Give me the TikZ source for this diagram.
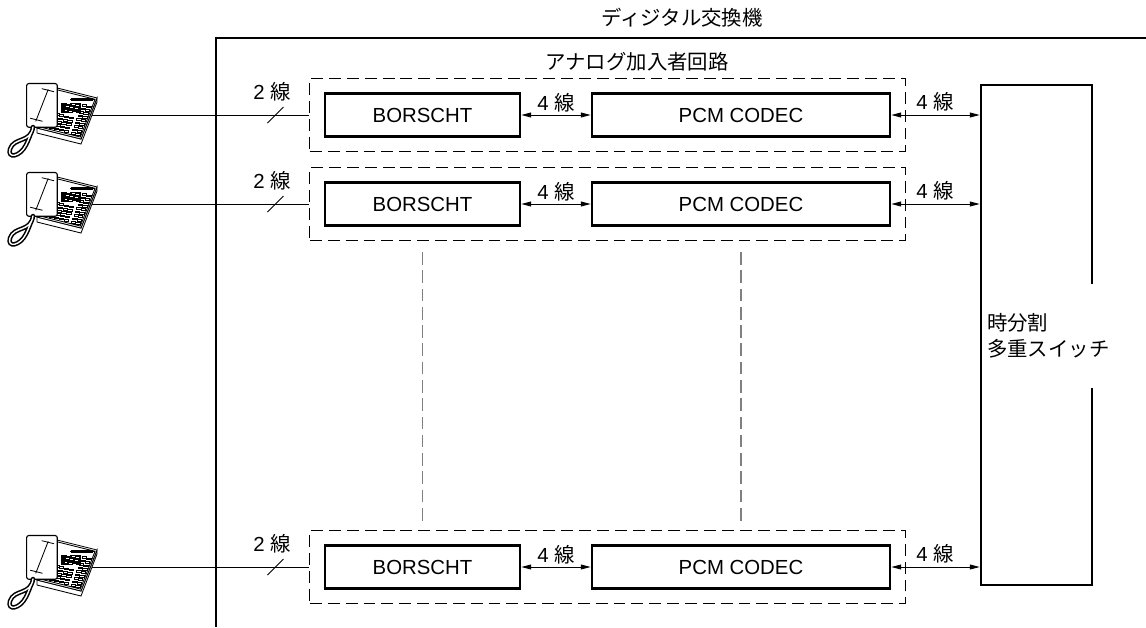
\documentclass[tikz,border=0pt]{standalone}
\usepackage{fontspec}
\setmainfont{Liberation Sans}
\newfontfamily\jp{Noto Sans CJK JP}
\usetikzlibrary{arrows.meta,positioning}

% desk telephone, #1 = point where its line leaves the set
\newcommand{\telset}[1]{%
\begin{scope}[shift={(#1)},line width=0.6pt]
\filldraw[fill=white] (-55,13) -- (-11,24) -- (5,-17) -- (5,-13) -- (-11,29) -- (-55,18) -- cycle;
\begin{scope}[shift={(-55,13)},x={(1.1cm,-0.275cm)},y={(0.4cm,1.025cm)}]
\filldraw[fill=white] (0,0) -- (1,0) -- (1,1) -- (0,1) -- cycle;
\draw (0.03,0.04) -- (0.97,0.04) -- (0.97,0.96) -- (0.03,0.96);
% display
\draw (0.45,0.82) rectangle (0.95,0.95);
\draw (0.48,0.85) rectangle (0.92,0.92);
% dark key block
\fill (0.38,0.48) rectangle (0.72,0.8);
\foreach \i in {0,1,2}
  \foreach \j in {0,1,2}
    \fill[white] (0.43+\j*0.1,0.54+\i*0.085) rectangle ++(0.05,0.04);
% dial keys
\foreach \i in {0,...,4}
  \foreach \j in {0,...,3}
    \draw (0.26+\j*0.11,0.06+\i*0.08) rectangle ++(0.08,0.06);
% function keys
\foreach \i in {0,...,8}
  \foreach \j in {0,1}
    \draw (0.76+\j*0.1,0.05+\i*0.085) rectangle ++(0.08,0.06);
% handset
\fill (0.04,0.3) rectangle (0.2,0.75);
\filldraw[fill=white,line width=0.8pt,rounded corners=1.5pt] (-0.22,-0.04) rectangle (0.06,1.1);
\draw (-0.08,0.14) -- (-0.08,0.92);
\draw (-0.22,0.18) -- (0.06,0.18);
\draw (-0.22,0.9) -- (0.06,0.9);
\end{scope}
% curly cord
\draw[line width=3.2pt,line cap=round] (-59,12) .. controls (-61,28) and (-78,22) .. (-82,34) .. controls (-85,44) and (-72,42) .. (-66,30) .. controls (-63,24) and (-62,20) .. (-60,16);
\draw[white,line width=1pt,line cap=round] (-59,12) .. controls (-61,28) and (-78,22) .. (-82,34) .. controls (-85,44) and (-72,42) .. (-66,30) .. controls (-63,24) and (-62,20) .. (-60,16);
\end{scope}}

\begin{document}
\begin{tikzpicture}[x=0.025cm,y=-0.025cm,
  every node/.style={font=\fontsize{14.5}{18.5}\selectfont},
  blk/.style={rectangle,draw,line width=1.9pt,fill=white,minimum height=1.075cm},
  grp/.style={rectangle,draw,dashed,dash pattern=on 8.5pt off 4.2pt,line width=0.8pt,minimum width=14.875cm,minimum height=1.825cm},
  vdash/.style={gray,line width=0.9pt,dash pattern=on 9pt off 4pt},
  link/.style={line width=0.6pt},
  bus/.style={line width=0.6pt,{Triangle[length=7pt,width=3.5pt]}-{Triangle[length=7pt,width=3.5pt]}}]
\useasboundingbox (0,0) rectangle (1146,627);

% exchange frame
\draw[line width=2pt] (216,627) -- (216,38) -- (1146,38);
\node (ttl) at (682,18) {\jp ディジタル交換機};
\node (alc) at (637,62) {\jp アナログ加入者回路};

% time division switch
\node[blk,minimum width=2.775cm,minimum height=12.5cm] (sw) at (1036.5,335) {};
\node[anchor=west,align=left,fill=white,inner xsep=2pt,inner ysep=0.75cm] (swl) at (984,336) {\jp 時分割\\\jp 多重スイッチ};

% subscriber circuits
\foreach \n/\y in {1/115,2/204,3/567}{
  \node[grp] (g\n) at (607.5,\y) {};
  \node[blk,minimum width=4.875cm] (b\n) at (422.5,\y) {BORSCHT};
  \node[blk,minimum width=7.45cm] (p\n) at (741,\y) {PCM CODEC};
  \draw[bus] (b\n.east) -- (p\n.west);
  \draw[bus] (p\n.east) -- (p\n.east -| sw.west);
  \node (l4a\n) at (556,\y-12) {4 {\jp 線}};
  \node (l4b\n) at (935,\y-13) {4 {\jp 線}};
  \coordinate (t\n) at (92,\y);
  \telset{t\n}
  \draw[link] (t\n) -- (t\n -| g\n.west);
  \coordinate (s\n) at (275.5,\y);
  \draw[link,shift={(s\n)}] (-8,8) -- (8,-8);
  \node (l2\n) at (272,\y-23) {2 {\jp 線}};
}

% omitted rows
\draw[vdash] (b2 |- 0,252) -- (b2 |- 0,522);
\draw[vdash] (p2 |- 0,252) -- (p2 |- 0,522);
\end{tikzpicture}
\end{document}
